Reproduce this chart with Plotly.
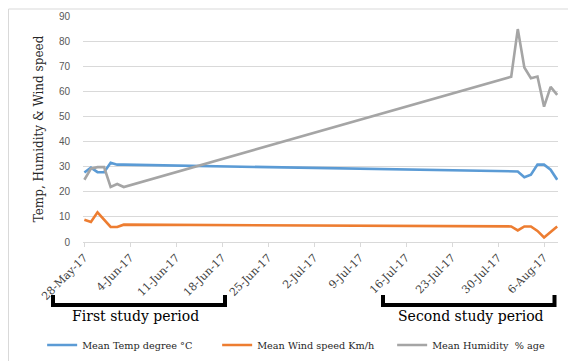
import plotly.graph_objects as go

# ---- data ----
dates_first = ["2017-05-28", "2017-05-29", "2017-05-30", "2017-05-31",
               "2017-06-01", "2017-06-02", "2017-06-03"]
dates_second = ["2017-08-01", "2017-08-02", "2017-08-03", "2017-08-04",
                "2017-08-05", "2017-08-06", "2017-08-07", "2017-08-08"]

temp_first = [27.7, 29.6, 27.8, 27.8, 31.6, 30.8, 30.8]
temp_second = [28.1, 28.1, 25.8, 26.8, 30.8, 30.8, 28.8, 24.8]

wind_first = [8.9, 8.0, 11.8, 9.0, 6.0, 6.0, 6.9]
wind_second = [6.2, 4.6, 6.2, 6.2, 4.4, 1.8, 4.0, 6.2]

hum_first = [24.8, 29.2, 29.8, 29.8, 21.9, 23.1, 21.9]
hum_second = [65.8, 84.8, 69.5, 65.2, 65.9, 53.9, 61.8, 58.6]

series_names = ["Mean Temp degree °C", "Mean Wind speed Km/h", "Mean Humidity  % age"]
series_colors = ["#5B9BD5", "#ED7D31", "#A5A5A5"]
y_title = "Temp, Humidity & Wind speed"
period_labels = ["First study period", "Second study period"]

dates = dates_first + dates_second
series_values = [temp_first + temp_second,
                 wind_first + wind_second,
                 hum_first + hum_second]

fig = go.Figure()
for name, color, vals in zip(series_names, series_colors, series_values):
    fig.add_trace(go.Scatter(x=dates, y=vals, mode="lines", name=name,
                             line=dict(color=color, width=2.6)))

serif = "DejaVu Serif"
grid = "#d9d9d9"

fig.update_layout(
    width=568, height=361,
    margin=dict(l=83, r=10, t=16, b=119, autoexpand=False),
    paper_bgcolor="white", plot_bgcolor="white",
    showlegend=True,
    legend=dict(orientation="h", x=-0.086, y=-0.456, xanchor="left", yanchor="middle",
                font=dict(family=serif, size=9.7, color="#262626"),
                entrywidth=130, entrywidthmode="pixels", itemwidth=30,
                bgcolor="rgba(0,0,0,0)"),
    xaxis=dict(
        type="date", automargin=False,
        range=["2017-05-27 19:00", "2017-08-08 03:00"],
        tick0="2017-05-28", dtick=7 * 86400000,
        tickformat="%-d-%b-%y", tickangle=-45,
        tickfont=dict(family=serif, size=11, color="#404040"),
        ticks="outside", ticklen=4, tickcolor=grid,
        showline=True, linecolor=grid, linewidth=1,
        showgrid=False, zeroline=False,
    ),
    yaxis=dict(
        range=[0, 90], dtick=10, automargin=False,
        tickfont=dict(family="Liberation Sans", size=10, color="#595959"),
        showgrid=True, gridcolor=grid, gridwidth=1,
        zeroline=False, showline=False, ticks="",
        ticklabelstandoff=12,
        title=dict(text=y_title, font=dict(family=serif, size=12, color="#262626"),
                   standoff=12),
    ),
)

def px_x(p):
    return (p - 83) / 475.0

def px_y(p):
    return (242 - p) / 226.0

# outer frame
fig.add_shape(type="rect", xref="paper", yref="paper",
              x0=px_x(8.5), x1=px_x(575), y0=px_y(370), y1=px_y(9),
              line=dict(color=grid, width=1), fillcolor="rgba(0,0,0,0)", layer="below")

# brackets
for left, right in [(53, 225), (383, 554.5)]:
    path = "M {a},{t} L {a},{b} L {c},{b} L {c},{t}".format(
        a=px_x(left), c=px_x(right), t=px_y(295), b=px_y(305))
    fig.add_shape(type="path", xref="paper", yref="paper", path=path,
                  line=dict(color="black", width=4))

for label, cx in zip(period_labels, [135, 470.5]):
    fig.add_annotation(text=label, xref="paper", yref="paper",
                       x=px_x(cx), y=px_y(316), showarrow=False,
                       xanchor="center", yanchor="middle",
                       font=dict(family=serif, size=14, color="black"))

fig.write_html("out.html",
               config={"displayModeBar": False},
               post_script="document.body.style.margin='0px';document.body.style.overflow='hidden';")
